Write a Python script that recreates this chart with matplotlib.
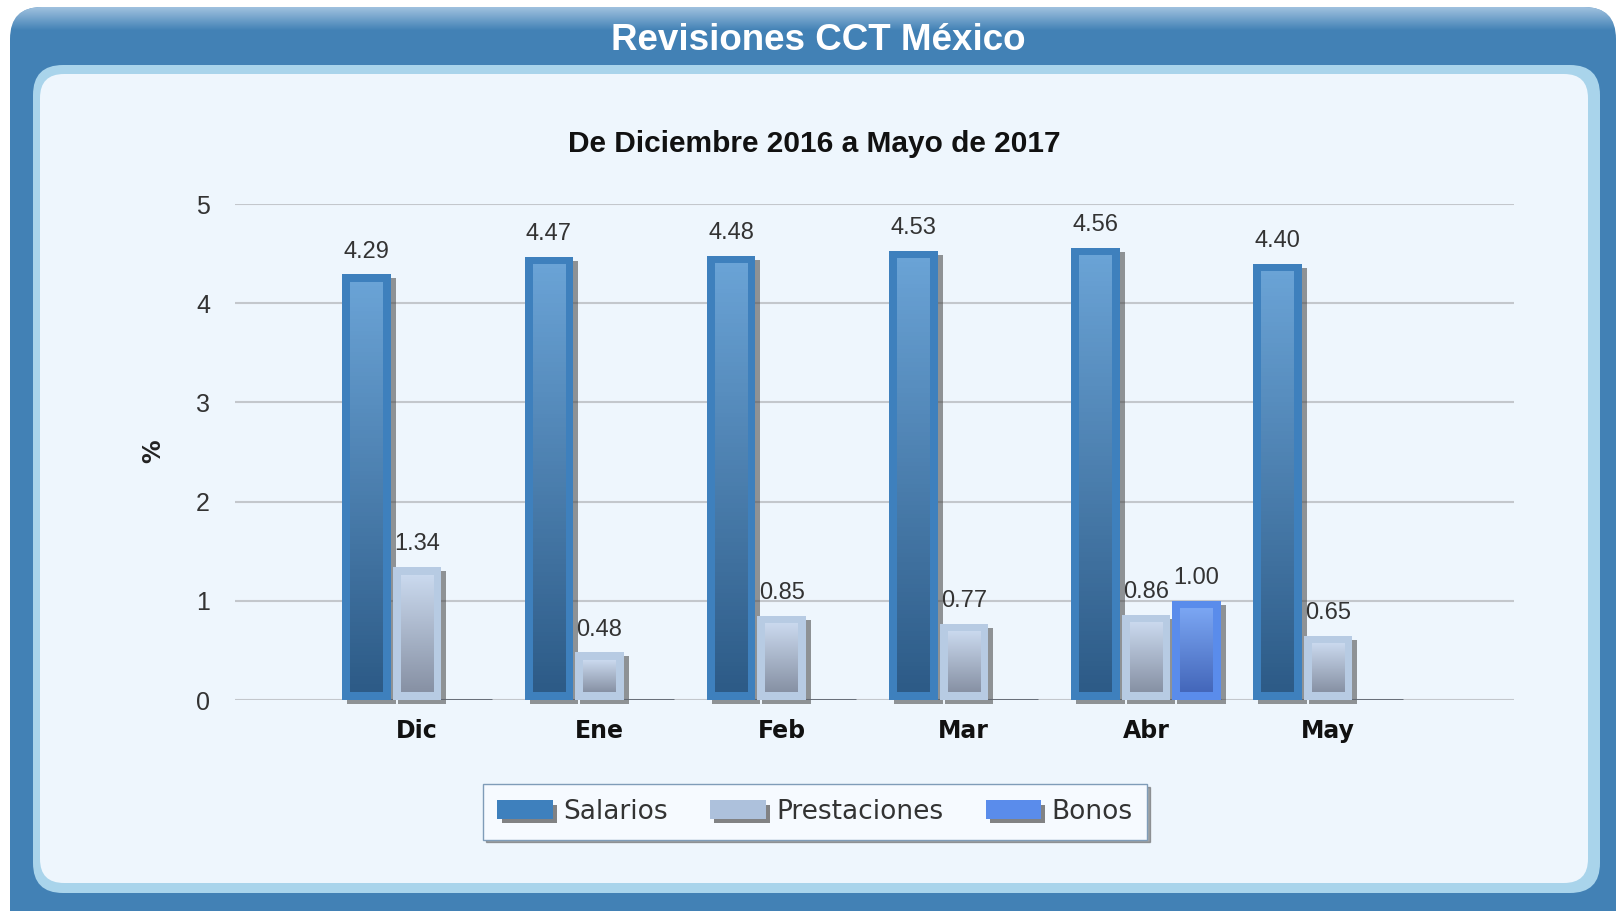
import matplotlib
matplotlib.use("Agg")
import matplotlib.pyplot as plt
import matplotlib.patheffects as pe
import numpy as np
from matplotlib.colors import LinearSegmentedColormap, to_rgb
from matplotlib.patches import FancyBboxPatch, Patch

W, H, DPI = 1618, 911, 100

MESES = ["Dic", "Ene", "Feb", "Mar", "Abr", "May"]
SALARIOS = [4.29, 4.47, 4.48, 4.53, 4.56, 4.40]
PRESTACIONES = [1.34, 0.48, 0.85, 0.77, 0.86, 0.65]
BONOS = [None, None, None, None, 1.00, None]
SERIES = ["Salarios", "Prestaciones", "Bonos"]
Y_TICKS = [0, 1, 2, 3, 4, 5]

# borde, degradado arriba, degradado abajo
ESTILO = {
    "Salarios": ("#3e80bd", "#6aa3d6", "#2d5b87"),
    "Prestaciones": ("#b7cbe3", "#cad9ee", "#8791a4"),
    "Bonos": ("#5a8ceb", "#7ba6f3", "#4467ba"),
}

fig = plt.figure(figsize=(W / DPI, H / DPI), dpi=DPI)

# ---- marco (en pixeles) ----
bg = fig.add_axes([0, 0, 1, 1], zorder=0)
bg.set_xlim(0, W)
bg.set_ylim(H, 0)
bg.axis("off")
outer = FancyBboxPatch((10, 7), 1606, 960, boxstyle="round,pad=0,rounding_size=32",
                       fc="#4281b5", ec="none")
bg.add_patch(outer)
hl = np.zeros((24, 1, 4))
hl[..., :3] = to_rgb("#a9c8e3")
hl[:, 0, 3] = np.linspace(0.9, 0, 24)
im = bg.imshow(hl, extent=[10, 1616, 31, 7], aspect="auto", zorder=2)
im.set_clip_path(outer)
bg.add_patch(FancyBboxPatch((33, 65), 1567, 828, boxstyle="round,pad=0,rounding_size=30",
                            fc="#a9d4eb", ec="none", zorder=3))
bg.add_patch(FancyBboxPatch((40, 74), 1548, 809, boxstyle="round,pad=0,rounding_size=24",
                            fc="#eef6fd", ec="none", zorder=4))

fig.text(818 / W, 1 - 41 / H, "Revisiones CCT México", color="white",
         fontsize=26.5, fontweight="bold", family="Liberation Sans",
         ha="center", va="center")
fig.text(814 / W, 1 - 144 / H, "De Diciembre 2016 a Mayo de 2017", color="#111111",
         fontsize=21.5, fontweight="bold", family="Liberation Sans",
         ha="center", va="center")
fig.text(153 / W, 1 - 451 / H, "%", rotation=90, fontsize=17, fontweight="bold",
         color="#222222", ha="center", va="center")

# ---- grafica ----
ax = fig.add_axes([235 / W, 1 - 700 / H, 1279 / W, 496 / H], zorder=1)
ax.patch.set_visible(False)
XLIM = (-1.0, 6.02)
YLIM = (0, 5)
px_x = (XLIM[1] - XLIM[0]) / 1279
px_y = (YLIM[1] - YLIM[0]) / 496

BAR_W = 0.266
OFFSETS = [-0.277, 0.0, 0.277]


def barra(x, h, serie):
    borde, arriba, abajo = ESTILO[serie]
    ax.bar(x + 5 * px_x, h, BAR_W, bottom=-4 * px_y, color="#404040", alpha=0.55,
           zorder=2, clip_on=False)
    ax.bar(x, h, BAR_W, color=borde, zorder=3)
    cmap = LinearSegmentedColormap.from_list(serie, [abajo, arriba])
    x0 = x - BAR_W / 2
    ax.imshow(np.linspace(0, 1, 100).reshape(-1, 1), cmap=cmap, origin="lower",
              extent=[x0 + 8 * px_x, x0 + BAR_W - 8 * px_x, 8 * px_y, h - 8 * px_y],
              aspect="auto", zorder=4)
    ax.annotate(f"{h:.2f}", (x, h), xytext=(0, 12), textcoords="offset points",
                ha="center", va="baseline", fontsize=17, color="#333333",
                family="Liberation Sans", zorder=6)


for i in range(len(MESES)):
    ax.plot([i + OFFSETS[0] - BAR_W / 2, i + OFFSETS[2] + BAR_W / 2], [0, 0],
            color="#5f6670", lw=2, zorder=2.5, solid_capstyle="butt")
    for serie, vals, off in zip(SERIES, [SALARIOS, PRESTACIONES, BONOS], OFFSETS):
        if vals[i] is not None:
            barra(i + off, vals[i], serie)

ax.set_xlim(*XLIM)
ax.set_ylim(*YLIM)
ax.set_yticks(Y_TICKS)
ax.set_yticklabels([str(t) for t in Y_TICKS], family="Liberation Sans",
                   fontsize=18, color="#333333")
ax.set_xticks(range(len(MESES)))
ax.set_xticklabels(MESES, fontsize=17, fontweight="bold", color="#111111")
ax.tick_params(axis="y", length=0, pad=18)
ax.tick_params(axis="x", length=0, pad=14)
ax.yaxis.grid(True, color="#c3c7cc", lw=1.5)
ax.set_axisbelow(True)
for s in ax.spines.values():
    s.set_visible(False)

sombra = [pe.withSimplePatchShadow(offset=(3, -3), shadow_rgbFace="#333333", alpha=0.6)]
handles = [Patch(facecolor=ESTILO[s][0] if s != "Prestaciones" else "#adc1dc",
                 edgecolor="none", path_effects=sombra) for s in SERIES]
leg = fig.legend(handles, SERIES, loc="center", bbox_to_anchor=(815 / W, 1 - 812 / H),
                 ncol=3, fontsize=19, frameon=True, fancybox=False,
                 edgecolor="#7f9cb8", facecolor="#f6faff", framealpha=1,
                 shadow={"color": "#555555", "alpha": 0.5},
                 handlelength=2.1, handleheight=0.72, handletextpad=0.4,
                 columnspacing=1.6, borderpad=0.55)
for t in leg.get_texts():
    t.set_color("#333333")

fig.savefig("out.png", dpi=DPI)
